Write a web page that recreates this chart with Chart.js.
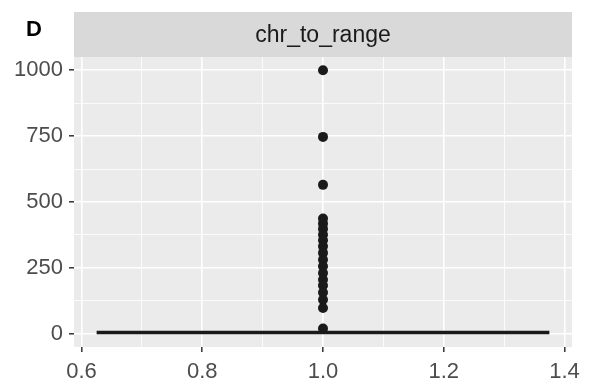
<!DOCTYPE html>
<html>
<head>
<meta charset="utf-8">
<script src="https://cdn.jsdelivr.net/npm/chart.js@4/dist/chart.umd.min.js"></script>
<style>
  html, body { margin: 0; padding: 0; background: #ffffff; }
  #wrap { width: 589px; height: 387px; position: relative; }
</style>
</head>
<body>
<div id="wrap"><canvas id="chart"></canvas></div>
<script>
// facet + panel labels
var panelTag = "D";
var facetLabel = "chr_to_range";

// outlier points (all at x = 1)
var outlierX = 1.0;
var outlierValues = [1000, 747, 565, 437, 418, 398, 376, 355, 332, 307, 281, 256, 231, 205, 183, 157, 129, 98, 20];

// collapsed box (q1 = median = q3 ~ 5), drawn across the box width
var boxLeft = 0.625, boxRight = 1.375, boxValue = 5;

// axis ticks
var yMajor = [0, 250, 500, 750, 1000];
var yMinor = [125, 375, 625, 875];
var xMajor = [0.6, 0.8, 1.0, 1.2, 1.4];
var xMinor = [0.7, 0.9, 1.1, 1.3];

var points = outlierValues.map(function (v) { return { x: outlierX, y: v }; });

// grey strip + tag letter
var stripPlugin = {
    id: 'strip',
    beforeDraw: function (chart) {
        var c = chart.ctx, a = chart.chartArea;
        c.save();
        c.fillStyle = '#D9D9D9';
        c.fillRect(a.left, 12, a.right - a.left, a.top - 12);
        c.fillStyle = '#1A1A1A';
        c.font = '23px "Liberation Sans", Arial, sans-serif';
        c.textAlign = 'center';
        c.textBaseline = 'middle';
        c.fillText(facetLabel, (a.left + a.right) / 2, 36);
        c.fillStyle = '#000000';
        c.font = 'bold 22px "Liberation Sans", Arial, sans-serif';
        c.fillText(panelTag, 34, 30);
        c.restore();
    }
};

var isMajorY = function (v) { return yMajor.indexOf(v) >= 0; };
var isMajorX = function (v) { return Math.round(v * 10) % 2 === 0; };

new Chart(document.getElementById('chart').getContext('2d'), {
    type: 'scatter',
    data: {
        datasets: [{
            label: 'box',
            type: 'line',
            data: [{ x: boxLeft, y: boxValue }, { x: boxRight, y: boxValue }],
            borderColor: '#1A1A1A',
            borderWidth: 3.5,
            pointRadius: 0,
            order: 2
        }, {
            label: 'outliers',
            data: points,
            backgroundColor: '#1A1A1A',
            borderColor: '#1A1A1A',
            pointRadius: 5,
            borderWidth: 0,
            order: 1
        }]
    },
    options: {
        responsive: true,
        maintainAspectRatio: false,
        animation: false,
        layout: { padding: { top: 57, right: 17, bottom: 0, left: 0 } },
        plugins: {
            legend: { display: false },
            tooltip: { enabled: false }
        },
        scales: {
            x: {
                type: 'linear',
                min: 0.5875,
                max: 1.4125,
                afterBuildTicks: function (s) {
                    s.ticks = xMajor.concat(xMinor).sort().map(function (v) { return { value: v }; });
                },
                afterFit: function (s) { s.height = 40; },
                border: { display: false },
                grid: {
                    color: '#FFFFFF',
                    lineWidth: function (ctx) { return ctx.tick && isMajorX(ctx.tick.value) ? 1.6 : 0.8; },
                    tickColor: function (ctx) { return ctx.tick && isMajorX(ctx.tick.value) ? '#333333' : 'rgba(0,0,0,0)'; },
                    tickWidth: 1.5,
                    tickLength: 5
                },
                ticks: {
                    color: '#4D4D4D',
                    padding: 7,
                    maxRotation: 0,
                    autoSkip: false,
                    font: { size: 22, family: '"Liberation Sans", Arial, sans-serif' },
                    callback: function (v) { return isMajorX(v) ? v.toFixed(1) : ''; }
                }
            },
            y: {
                type: 'linear',
                min: -50,
                max: 1050,
                afterBuildTicks: function (s) {
                    s.ticks = yMajor.concat(yMinor).sort(function (a, b) { return a - b; }).map(function (v) { return { value: v }; });
                },
                afterFit: function (s) { s.width = 74; },
                border: { display: false },
                grid: {
                    color: '#FFFFFF',
                    lineWidth: function (ctx) { return ctx.tick && isMajorY(ctx.tick.value) ? 1.6 : 0.8; },
                    tickColor: function (ctx) { return ctx.tick && isMajorY(ctx.tick.value) ? '#333333' : 'rgba(0,0,0,0)'; },
                    tickWidth: 1.5,
                    tickLength: 5
                },
                ticks: {
                    color: '#4D4D4D',
                    padding: 6,
                    autoSkip: false,
                    font: { size: 22, family: '"Liberation Sans", Arial, sans-serif' },
                    callback: function (v) { return isMajorY(v) ? String(v) : ''; }
                }
            }
        }
    },
    plugins: [stripPlugin, {
        id: 'panelBg',
        beforeDraw: function (chart) {
            var c = chart.ctx, a = chart.chartArea;
            c.save();
            c.fillStyle = '#EBEBEB';
            c.fillRect(a.left, a.top, a.right - a.left, a.bottom - a.top);
            c.restore();
        }
    }]
});
</script>
</body>
</html>
